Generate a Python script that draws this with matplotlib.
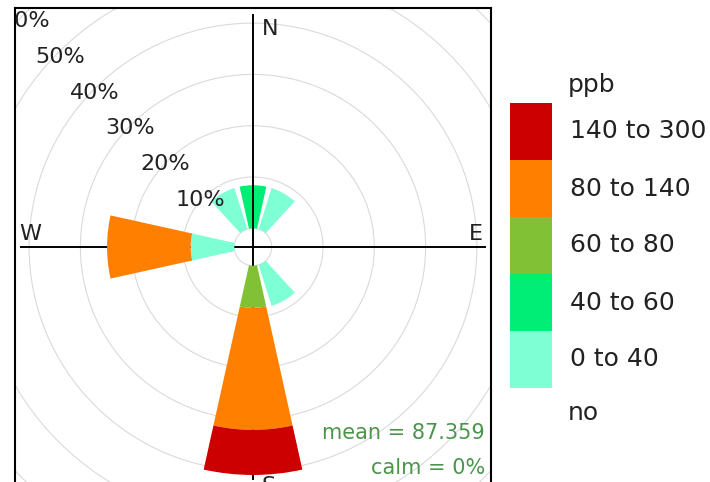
import numpy as np
import matplotlib
matplotlib.use('Agg')
import matplotlib.pyplot as plt
from matplotlib.patches import Wedge, Circle

# Sector directions (degrees from north, clockwise)
directions = [0, 30, 150, 180, 270, 330]

# Frequency (%) of each concentration band per direction
bands = ['0 to 40', '40 to 60', '60 to 80', '80 to 140', '140 to 300']
band_0_40 = [0, 8.4, 8.4, 0, 8.5, 8.4]
band_40_60 = [8.4, 0, 0, 0, 0, 0]
band_60_80 = [0, 0, 0, 8.2, 0, 0]
band_80_140 = [0, 0, 0, 23.8, 16.3, 0]
band_140_300 = [0, 0, 0, 8.8, 0, 0]
band_values = [band_0_40, band_40_60, band_60_80, band_80_140, band_140_300]

colours = ['#7FFFD4', '#00EE76', '#80C136', '#FF7F00', '#CD0000']
ring_levels = [10, 20, 30, 40, 50, 60]

pollutant = 'no'
units = 'ppb'
mean_value = 87.359
calm = 0

offset = 3.65      # radius of the calm circle, in % units
sector = 30        # sector angle
half_width = sector / 2 - sector / 12

fig = plt.figure(figsize=(7.1, 4.82), dpi=100)
ax = fig.add_axes([15 / 710, -4 / 482, 476 / 710, 478 / 482])
ax.set_xlim(-46.4, 46.4)
ax.set_ylim(-46.6, 46.6)
ax.set_xticks([])
ax.set_yticks([])
for sp in ax.spines.values():
    sp.set_linewidth(1.5)
    sp.set_color('black')

# grid rings
for lev in [0] + ring_levels:
    ax.add_patch(Circle((0, 0), offset + lev, fill=False, ec='#DADADA', lw=0.8, zorder=1))

# crosshair (drawn under the wedges)
lim = 45.3
ax.plot([-lim, lim], [0, 0], color='black', lw=1.4, zorder=2)
ax.plot([0, 0], [-lim, 0], color='black', lw=1.4, zorder=2)

# stacked sectors
cum = np.zeros(len(directions))
for vals, col in zip(band_values, colours):
    vals = np.array(vals, dtype=float)
    for d, base, v in zip(directions, cum, vals):
        if v <= 0:
            continue
        a = 90 - d
        ax.add_patch(Wedge((0, 0), offset + base + v, a - half_width, a + half_width,
                           width=v, fc=col, ec='none', zorder=3))
    cum += vals

ax.plot([0, 0], [0, lim], color='black', lw=1.4, zorder=4)

# ring labels up the NW diagonal
for lev in ring_levels:
    ax.text(-3.5 - 0.682 * lev, 2.2 + 0.697 * lev, f'{lev}%', fontsize=16,
            ha='center', va='center', color='#222222', clip_on=True, zorder=5)

# compass labels
ax.text(1.75, 44.4, 'N', fontsize=16, ha='left', va='top', color='#222222')
ax.text(44.9, 0.6, 'E', fontsize=16, ha='right', va='bottom', color='#222222')
ax.text(-45.6, 0.6, 'W', fontsize=16, ha='left', va='bottom', color='#222222')
ax.text(1.75, -44.6, 'S', fontsize=16, ha='left', va='top', color='#222222', clip_on=True)

# statistics
ax.text(45.2, -36.3, f'mean = {mean_value}', fontsize=15, ha='right', va='center', color='#4A954A')
ax.text(45.2, -43.1, f'calm = {calm}%', fontsize=15, ha='right', va='center', color='#4A954A')

# key
kax = fig.add_axes([510 / 710, (482 - 388) / 482, 42 / 710, 285 / 482])
kax.set_xlim(0, 1)
kax.set_ylim(0, len(bands))
kax.axis('off')
kax.bar(np.full(len(bands), 0.5), np.ones(len(bands)), width=1, bottom=np.arange(len(bands)),
        color=colours, edgecolor='none')
for i, b in enumerate(bands):
    kax.text(1.43, i + 0.5, b, fontsize=18, ha='left', va='center', color='#222222')
kax.text(1.38, 5.32, units, fontsize=18, ha='left', va='center', color='#222222')
kax.text(1.38, -0.44, pollutant, fontsize=18, ha='left', va='center', color='#222222')

fig.savefig('out.png', dpi=100)
